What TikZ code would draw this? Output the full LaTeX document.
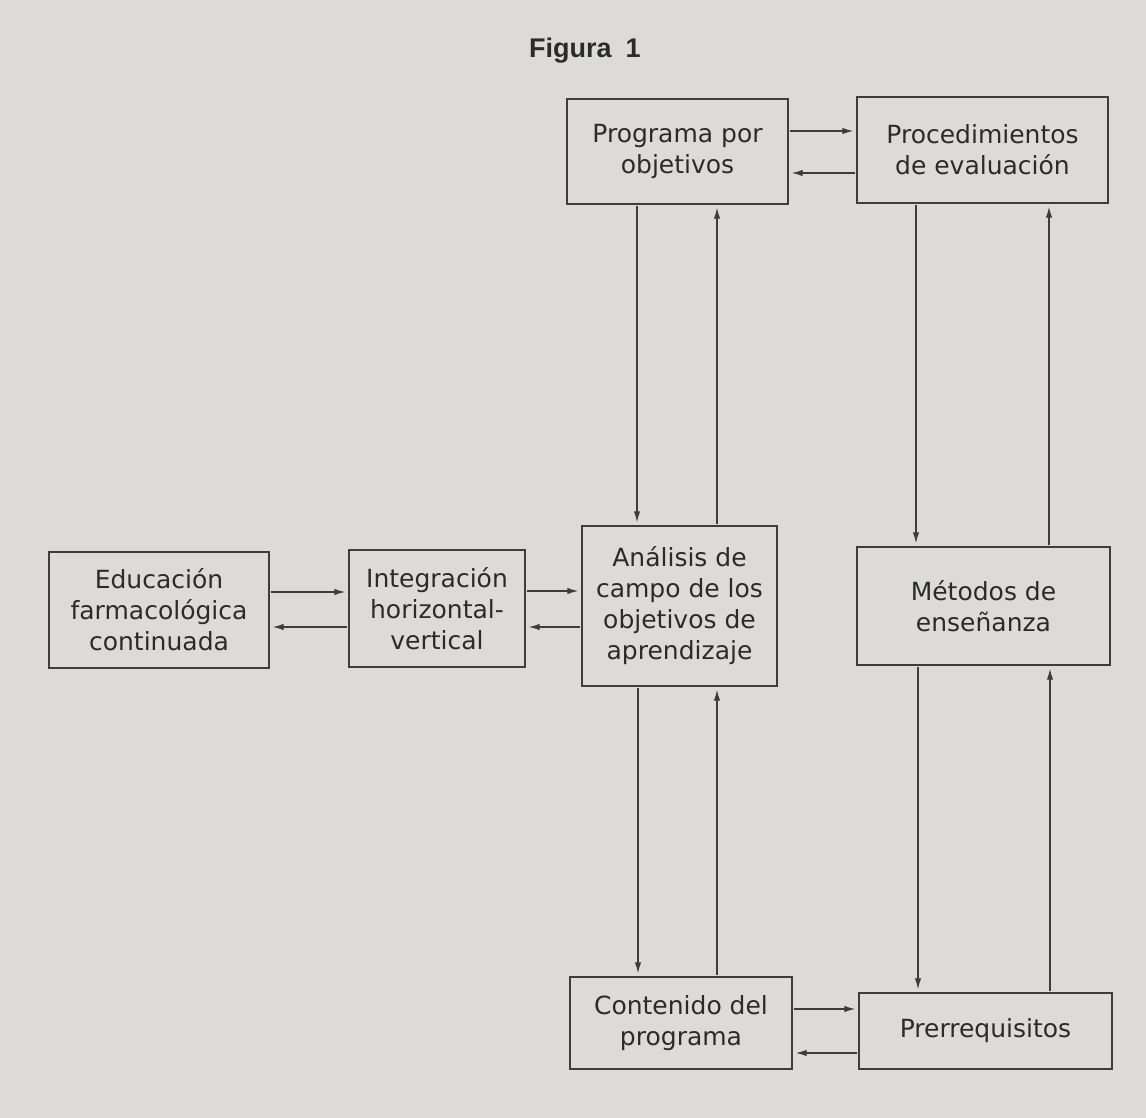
\documentclass[tikz,border=0pt]{standalone}
\usepackage{fontspec}
\setmainfont{DejaVu Sans}
\newfontfamily\titlefont{Liberation Sans}
\usepackage{xcolor}
\usepackage{tikz}
\usetikzlibrary{arrows.meta}
\definecolor{paper}{rgb}{0.866,0.858,0.850}
\definecolor{linecol}{rgb}{0.24,0.24,0.24}
\definecolor{inkcol}{rgb}{0.17,0.17,0.17}

\tikzset{
    box/.style={draw=linecol, line width=0.7pt, align=center, inner sep=0pt,
        text=inkcol, font=\fontsize{12.5}{15.5}\selectfont},
    flow/.style={draw=linecol, line width=0.6pt, -{Latex[length=5.5pt,width=3.2pt]},
        shorten >=1.5pt, shorten <=0.5pt}
}

\begin{document}
\begin{tikzpicture}[x=0.5pt, y=-0.5pt]
    % page
    \fill[paper] (0,0) rectangle (1146,1118);
    \useasboundingbox (0,0) rectangle (1146,1118);

    % title
    \node[text=inkcol, font=\titlefont\bfseries\fontsize{13.5}{16}\selectfont] (title) at (585,51) {Figura\hspace{7pt}1};

    % draw boxes
    \node[box, minimum width=110.5pt, minimum height=52.5pt] (prog) at (677.5,151.5) {Programa por\\objetivos};
    \node[box, minimum width=125.5pt, minimum height=53pt] (proc) at (982.5,150) {Procedimientos\\de evaluación};
    \node[box, minimum width=97.5pt, minimum height=80pt] (anal) at (679.5,606) {Análisis de\\campo de los\\objetivos de\\aprendizaje};
    \node[box, minimum width=126.5pt, minimum height=59pt] (metod) at (983.5,606) {Métodos de\\enseñanza};
    \node[box, minimum width=110pt, minimum height=58pt] (educ) at (159,610) {Educación\\farmacológica\\continuada};
    \node[box, minimum width=88pt, minimum height=58.5pt] (integ) at (437,608.5) {Integración\\horizontal-\\vertical};
    \node[box, minimum width=111pt, minimum height=46pt] (cont) at (681,1023) {Contenido del\\programa};
    \node[box, minimum width=126.5pt, minimum height=38pt] (prer) at (985.5,1031) {Prerrequisitos};

    % top row
    \path ([yshift=9.5pt]proc.west) coordinate (a);
    \draw[flow] (a -| prog.east) -- (a);
    \draw[flow] ([yshift=-11.5pt]proc.west) coordinate (a) -- (a -| prog.east);

    % left column
    \draw[flow] ([xshift=-20.25pt]prog.south) coordinate (a) -- (a |- anal.north);
    \draw[flow] ([xshift=18.75pt]anal.north) coordinate (a) -- (a |- prog.south);
    \draw[flow] ([xshift=-20.75pt]anal.south) coordinate (a) -- (a |- cont.north);
    \draw[flow] ([xshift=18pt]cont.north) coordinate (a) -- (a |- anal.south);

    % right column
    \draw[flow] ([xshift=-33.25pt]proc.south) coordinate (a) -- (a |- metod.north);
    \draw[flow] ([xshift=32.75pt]metod.north) coordinate (a) -- (a |- proc.south);
    \draw[flow] ([xshift=-32.75pt]metod.south) coordinate (a) -- (a |- prer.north);
    \draw[flow] ([xshift=32.25pt]prer.north) coordinate (a) -- (a |- metod.south);

    % middle row
    \draw[flow] ([yshift=9pt]educ.east) coordinate (a) -- (a -| integ.west);
    \draw[flow] ([yshift=-9.25pt]integ.west) coordinate (a) -- (a -| educ.east);
    \draw[flow] ([yshift=8.75pt]integ.east) coordinate (a) -- (a -| anal.west);
    \draw[flow] ([yshift=-10.5pt]anal.west) coordinate (a) -- (a -| integ.east);

    % bottom row
    \path ([yshift=11pt]prer.west) coordinate (a);
    \draw[flow] (a -| cont.east) -- (a);
    \draw[flow] ([yshift=-11pt]prer.west) coordinate (a) -- (a -| cont.east);
\end{tikzpicture}
\end{document}
